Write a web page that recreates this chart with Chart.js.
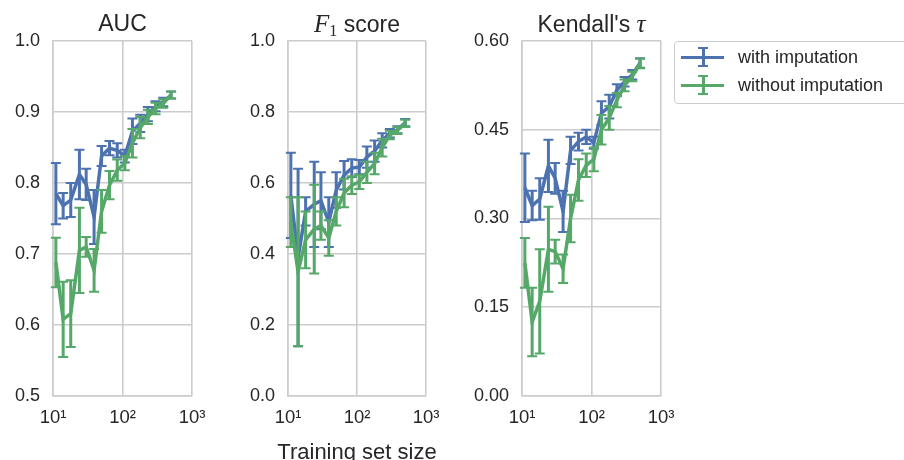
<!DOCTYPE html>
<html>
<head>
<meta charset="utf-8">
<script src="https://cdn.jsdelivr.net/npm/chart.js@4.4.0/dist/chart.umd.min.js"></script>
<style>
    body {
        margin: 0;
        width: 904px;
        height: 460px;
        overflow: hidden;
        position: relative;
        background: #fff;
        font-family: 'Liberation Sans', Arial, sans-serif;
        color: #262626;
    }
    canvas { position: absolute; top: 0; }
    .title {
        position: absolute;
        top: 12px;
        font-size: 23px;
        line-height: 23px;
        text-align: center;
        white-space: nowrap;
    }
    .math { font-family: 'Liberation Serif', serif; font-style: italic; font-size: 25px; }
    .title sub { font-family: 'Liberation Serif', serif; font-size: 16px; line-height: 0; vertical-align: -4px; }
    #xlabel {
        position: absolute;
        left: 207px;
        width: 300px;
        top: 441px;
        font-size: 22px;
        line-height: 22px;
        text-align: center;
        white-space: nowrap;
    }
    #legend {
        position: absolute;
        left: 674px;
        top: 41px;
        width: 250px;
        height: 63px;
        border: 1px solid #cccccc;
        border-radius: 4px;
        box-sizing: border-box;
    }
    .row {
        position: absolute;
        left: 0;
        height: 28px;
        display: flex;
        align-items: center;
        font-size: 18px;
        white-space: nowrap;
    }
    .key { position: relative; width: 63px; height: 28px; }
    .key i { position: absolute; display: block; background: var(--c); }
    .key .h { left: 6px; width: 43px; top: 12.5px; height: 3.5px; }
    .key .v { left: 26.5px; width: 3px; top: 5px; height: 18px; }
    .key .cap { left: 23px; width: 10px; height: 2px; }
    .key .t { top: 4px; }
    .key .b { top: 22px; }
</style>
</head>
<body>
<canvas id="auc" width="235" height="460" style="left:0px"></canvas>
<canvas id="f1" width="230" height="460" style="left:235px"></canvas>
<canvas id="tau" width="240" height="460" style="left:460px"></canvas>

<div class="title" style="left:53px;width:139px">AUC</div>
<div class="title" style="left:288px;width:138px"><span class="math">F</span><sub>1</sub> score</div>
<div class="title" style="left:522px;width:139px">Kendall's <span class="math">τ</span></div>
<div id="xlabel">Training set size</div>

<div id="legend">
    <div class="row" style="top:1px"><span class="key" style="--c:#4c72b0"><i class="h"></i><i class="v"></i><i class="cap t"></i><i class="cap b"></i></span>with imputation</div>
    <div class="row" style="top:29px"><span class="key" style="--c:#55a868"><i class="h"></i><i class="v"></i><i class="cap t"></i><i class="cap b"></i></span>without imputation</div>
</div>

<script>
// training set sizes (log x axis)
const sizes = [11, 14, 18, 24, 30, 39, 50, 65, 84, 108, 139, 180, 232, 299, 386, 500];
const xTicks = [10, 100, 1000];
const xTickLabels = ['10¹', '10²', '10³'];

const aucWith = [0.785, 0.768, 0.776, 0.812, 0.798, 0.752, 0.838, 0.849, 0.846, 0.838, 0.873, 0.884, 0.897, 0.908, 0.914, 0.924];
const aucWithErr = [0.043, 0.018, 0.024, 0.035, 0.022, 0.038, 0.014, 0.010, 0.010, 0.009, 0.018, 0.012, 0.010, 0.007, 0.006, 0.005];
const aucWithout = [0.688, 0.608, 0.616, 0.705, 0.710, 0.677, 0.760, 0.797, 0.818, 0.828, 0.856, 0.878, 0.893, 0.905, 0.912, 0.924];
const aucWithoutErr = [0.035, 0.053, 0.047, 0.060, 0.014, 0.030, 0.030, 0.020, 0.015, 0.010, 0.020, 0.015, 0.010, 0.008, 0.006, 0.005];
const aucTicks = [0.5, 0.6, 0.7, 0.8, 0.9, 1.0];

const f1With = [0.565, 0.390, 0.520, 0.540, 0.550, 0.490, 0.580, 0.622, 0.642, 0.645, 0.673, 0.690, 0.720, 0.740, 0.750, 0.770];
const f1WithErr = [0.120, 0.250, 0.040, 0.120, 0.080, 0.070, 0.050, 0.040, 0.025, 0.020, 0.030, 0.030, 0.020, 0.012, 0.010, 0.010];
const f1Without = [0.490, 0.350, 0.440, 0.470, 0.480, 0.445, 0.520, 0.572, 0.594, 0.603, 0.630, 0.655, 0.700, 0.735, 0.748, 0.768];
const f1WithoutErr = [0.070, 0.210, 0.080, 0.125, 0.040, 0.050, 0.040, 0.040, 0.025, 0.020, 0.030, 0.030, 0.025, 0.012, 0.010, 0.010];
const f1Ticks = [0.0, 0.2, 0.4, 0.6, 0.8, 1.0];

const tauWith = [0.352, 0.322, 0.333, 0.389, 0.368, 0.312, 0.415, 0.430, 0.438, 0.428, 0.478, 0.489, 0.517, 0.531, 0.543, 0.563];
const tauWithErr = [0.058, 0.025, 0.035, 0.044, 0.026, 0.035, 0.023, 0.015, 0.012, 0.010, 0.020, 0.020, 0.010, 0.008, 0.008, 0.008];
const tauWithout = [0.225, 0.125, 0.160, 0.248, 0.244, 0.215, 0.300, 0.365, 0.390, 0.400, 0.450, 0.470, 0.500, 0.525, 0.540, 0.562];
const tauWithoutErr = [0.042, 0.058, 0.088, 0.072, 0.020, 0.024, 0.040, 0.035, 0.020, 0.020, 0.025, 0.020, 0.012, 0.010, 0.008, 0.008];
const tauTicks = [0.0, 0.15, 0.30, 0.45, 0.60];

const BLUE = '#4c72b0';
const GREEN = '#55a868';
const GRID = '#cccccc';
const TEXT = '#262626';

// vertical error bars with caps, drawn right after each line
const errorBars = {
    id: 'errorBars',
    afterDatasetDraw(chart, args) {
        const ds = chart.data.datasets[args.index];
        if (!ds.errors) {
            return;
        }
        const { ctx, scales: { x, y } } = chart;
        ctx.save();
        ctx.strokeStyle = ds.borderColor;
        ds.data.forEach((pt, i) => {
            const px = x.getPixelForValue(pt.x);
            const top = y.getPixelForValue(pt.y + ds.errors[i]);
            const bottom = y.getPixelForValue(pt.y - ds.errors[i]);
            ctx.lineWidth = 3;
            ctx.beginPath();
            ctx.moveTo(px, top);
            ctx.lineTo(px, bottom);
            ctx.stroke();
            ctx.lineWidth = 2;
            ctx.beginPath();
            ctx.moveTo(px - 5, top);
            ctx.lineTo(px + 5, top);
            ctx.moveTo(px - 5, bottom);
            ctx.lineTo(px + 5, bottom);
            ctx.stroke();
        });
        ctx.restore();
    },
};

function series(label, values, errors, color, order) {
    return {
        label,
        data: sizes.map((n, i) => ({ x: n, y: values[i] })),
        errors,
        borderColor: color,
        borderWidth: 3.5,
        pointRadius: 0,
        tension: 0,
        fill: false,
        order,
    };
}

function makePanel(id, withVals, withErr, withoutVals, withoutErr, yTicks, decimals, yWidth, rightPad) {
    new Chart(document.getElementById(id), {
        type: 'line',
        data: {
            datasets: [
                series('with imputation', withVals, withErr, BLUE, 2),
                series('without imputation', withoutVals, withoutErr, GREEN, 1),
            ],
        },
        options: {
            responsive: false,
            animation: false,
            devicePixelRatio: 1,
            layout: { padding: { top: 41, right: rightPad, bottom: 0, left: 0 } },
            plugins: {
                legend: { display: false },
                tooltip: { enabled: false },
            },
            scales: {
                x: {
                    type: 'logarithmic',
                    min: xTicks[0],
                    max: xTicks[xTicks.length - 1],
                    afterBuildTicks: (scale) => {
                        scale.ticks = xTicks.map((v) => ({ value: v }));
                    },
                    afterFit: (scale) => {
                        scale.height = 64;
                    },
                    grid: { color: GRID, lineWidth: 1.6, drawTicks: false },
                    border: { color: GRID, width: 1.6 },
                    ticks: {
                        padding: 11,
                        maxRotation: 0,
                        autoSkip: false,
                        color: TEXT,
                        font: { family: 'Liberation Sans', size: 18.5 },
                        callback: (value) => xTickLabels[xTicks.indexOf(value)],
                    },
                },
                y: {
                    min: yTicks[0],
                    max: yTicks[yTicks.length - 1],
                    afterBuildTicks: (scale) => {
                        scale.ticks = yTicks.map((v) => ({ value: v }));
                    },
                    afterFit: (scale) => {
                        scale.width = yWidth;
                    },
                    grid: { color: GRID, lineWidth: 1.6, drawTicks: false },
                    border: { color: GRID, width: 1.6 },
                    ticks: {
                        padding: 13,
                        color: TEXT,
                        font: { family: 'Liberation Sans', size: 18 },
                        callback: (value) => Number(value).toFixed(decimals),
                    },
                },
            },
        },
        plugins: [errorBars],
    });
}

makePanel('auc', aucWith, aucWithErr, aucWithout, aucWithoutErr, aucTicks, 1, 53, 43);
makePanel('f1', f1With, f1WithErr, f1Without, f1WithoutErr, f1Ticks, 1, 53, 39);
makePanel('tau', tauWith, tauWithErr, tauWithout, tauWithoutErr, tauTicks, 2, 62, 39);
</script>
</body>
</html>
